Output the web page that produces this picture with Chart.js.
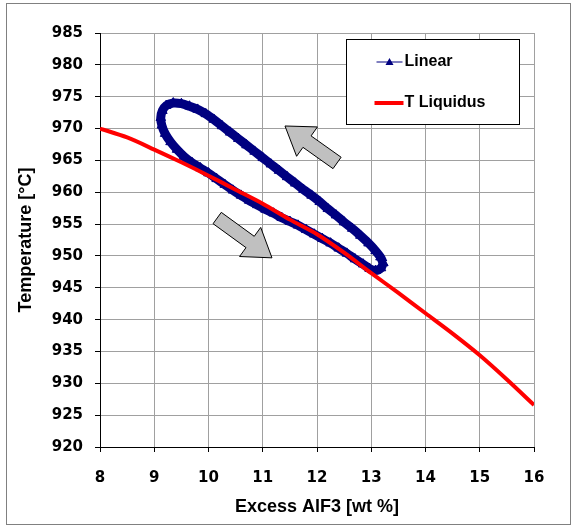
<!DOCTYPE html>
<html>
<head>
<meta charset="utf-8">
<script src="https://cdn.jsdelivr.net/npm/chart.js@4"></script>
<style>
  body { margin: 0; background: #fff; }
  #wrap { width: 576px; height: 531px; }
</style>
</head>
<body>
<div id="wrap"><canvas id="my-chart" width="576" height="531"></canvas></div>
<script>
'use strict';

// Data

let xTicks = [8, 9, 10, 11, 12, 13, 14, 15, 16];
let yTicks = [920, 925, 930, 935, 940, 945, 950, 955, 960, 965, 970, 975, 980, 985];

// T Liquidus curve
let liqX = [8, 8.5, 9, 9.5, 10, 10.5, 11, 11.5, 12, 12.5, 13, 13.5, 14, 14.5, 15, 15.5, 16];
let liqT = [970, 968.6, 966.7, 964.7, 962.6, 960.4, 958.2, 955.7, 953.4, 950.5, 947.3, 944.2, 941.0, 937.8, 934.4, 930.6, 926.6];

// Linear loop (upper branch going up-left, then lower branch going down-right)
let loopX = [13.22, 13.17, 13.08, 12.95, 12.8, 12.65, 12.5, 12.35, 12.2, 12.05, 11.9, 11.75, 11.6, 11.45, 11.3,
  11.15, 11.0, 10.85, 10.7, 10.55, 10.4, 10.25, 10.1, 9.95, 9.8, 9.65, 9.5, 9.35, 9.22, 9.15, 9.12, 9.14,
  9.2, 9.3, 9.42, 9.55, 9.7, 9.85, 10.0, 10.15, 10.3, 10.45, 10.6, 10.75, 10.9, 11.05, 11.2, 11.35, 11.5,
  11.65, 11.8, 11.95, 12.1, 12.25, 12.4, 12.55, 12.7, 12.85, 12.97, 13.08, 13.18, 13.22];
let loopT = [948.9, 949.8, 950.8, 952.0, 953.2, 954.3, 955.3, 956.4, 957.4, 958.5, 959.5, 960.4, 961.4, 962.4, 963.4,
  964.4, 965.4, 966.4, 967.4, 968.4, 969.4, 970.4, 971.4, 972.3, 973.0, 973.5, 973.9, 974.0, 973.6, 972.8, 971.7, 970.5,
  969.2, 967.9, 966.7, 965.6, 964.6, 963.8, 963.0, 962.1, 961.2, 960.3, 959.5, 958.7, 958.0, 957.3, 956.7, 956.0, 955.4,
  954.8, 954.1, 953.4, 952.7, 952.0, 951.2, 950.4, 949.5, 948.7, 948.0, 947.7, 948.1, 948.9];

// Arrows: [tailX, tailT, tipX, tipT]
let arrowUp = [12.37, 964.6, 11.41, 970.4];
let arrowDown = [10.16, 955.95, 11.17, 949.7];

let seriesNames = ['Linear', 'T Liquidus'];
let seriesColors = ['#000080', '#ff0000'];

// Helper Functions
function toPoints(xs, ys) {
  let pts = [];
  for (let i = 0; i < xs.length; i++) {
    pts.push({ x: xs[i], y: ys[i] });
  }
  return pts;
}

function drawArrow(ctx, chart, arr) {
  let xs = chart.scales.x;
  let ys = chart.scales.y;
  let x0 = xs.getPixelForValue(arr[0]);
  let y0 = ys.getPixelForValue(arr[1]);
  let x1 = xs.getPixelForValue(arr[2]);
  let y1 = ys.getPixelForValue(arr[3]);
  let len = Math.hypot(x1 - x0, y1 - y0);
  let ux = (x1 - x0) / len;
  let uy = (y1 - y0) / len;
  let nx = -uy;
  let ny = ux;
  let headLen = 27;
  let headW = 18;
  let shaftW = 7;
  let bx = x1 - ux * headLen;
  let by = y1 - uy * headLen;
  ctx.save();
  ctx.beginPath();
  ctx.moveTo(x0 + nx * shaftW, y0 + ny * shaftW);
  ctx.lineTo(bx + nx * shaftW, by + ny * shaftW);
  ctx.lineTo(bx + nx * headW, by + ny * headW);
  ctx.lineTo(x1, y1);
  ctx.lineTo(bx - nx * headW, by - ny * headW);
  ctx.lineTo(bx - nx * shaftW, by - ny * shaftW);
  ctx.lineTo(x0 - nx * shaftW, y0 - ny * shaftW);
  ctx.closePath();
  ctx.fillStyle = '#c0c0c0';
  ctx.fill();
  ctx.lineWidth = 1;
  ctx.strokeStyle = '#000';
  ctx.stroke();
  ctx.restore();
}

// Plugins
let framePlugin = {
  id: 'frame',
  beforeDraw(chart) {
    let ctx = chart.ctx;
    ctx.save();
    ctx.fillStyle = '#fff';
    ctx.fillRect(0, 0, chart.width, chart.height);
    ctx.strokeStyle = '#808080';
    ctx.lineWidth = 1;
    ctx.strokeRect(6.5, 3.5, 564, 521);
    ctx.restore();
  },
  afterDatasetsDraw(chart) {
    let ctx = chart.ctx;
    drawArrow(ctx, chart, arrowUp);
    drawArrow(ctx, chart, arrowDown);
  },
  afterDraw(chart) {
    let ctx = chart.ctx;
    let area = chart.chartArea;
    let lx = area.right - 187.5;
    let ly = area.top + 6.5;
    ctx.save();
    ctx.fillStyle = '#fff';
    ctx.fillRect(lx, ly, 173, 85);
    ctx.strokeStyle = '#000';
    ctx.lineWidth = 1;
    ctx.strokeRect(lx, ly, 173, 85);

    // Linear entry
    let y1 = ly + 22.5;
    ctx.strokeStyle = seriesColors[0];
    ctx.lineWidth = 1;
    ctx.beginPath();
    ctx.moveTo(lx + 30, y1);
    ctx.lineTo(lx + 56, y1);
    ctx.stroke();
    ctx.fillStyle = seriesColors[0];
    ctx.beginPath();
    ctx.moveTo(lx + 43, y1 - 4);
    ctx.lineTo(lx + 47, y1 + 3);
    ctx.lineTo(lx + 39, y1 + 3);
    ctx.closePath();
    ctx.fill();

    // T Liquidus entry
    let y2 = ly + 63.5;
    ctx.strokeStyle = seriesColors[1];
    ctx.lineWidth = 4;
    ctx.beginPath();
    ctx.moveTo(lx + 28, y2);
    ctx.lineTo(lx + 57, y2);
    ctx.stroke();

    ctx.fillStyle = '#000';
    ctx.font = 'bold 16px "Liberation Sans", Arial, sans-serif';
    ctx.textBaseline = 'middle';
    ctx.textAlign = 'left';
    ctx.fillText(seriesNames[0], lx + 58, y1);
    ctx.fillText(seriesNames[1], lx + 58, y2);
    ctx.restore();
  }
};

let canvasElem = document.getElementById('my-chart');

let tickFont = { family: '"DejaVu Sans", sans-serif', size: 15, weight: 'bold' };
let titleFont = { family: '"Liberation Sans", Arial, sans-serif', size: 18, weight: 'bold' };

let myObj = {
  type: 'line',
  data: {
    datasets: [{
      label: seriesNames[0],
      data: toPoints(loopX, loopT),
      borderColor: seriesColors[0],
      backgroundColor: seriesColors[0],
      borderWidth: 9,
      pointStyle: 'triangle',
      pointRadius: 5.5,
      pointBorderWidth: 1,
      tension: 0.3,
      order: 2
    },
    {
      label: seriesNames[1],
      data: toPoints(liqX, liqT),
      borderColor: seriesColors[1],
      backgroundColor: seriesColors[1],
      borderWidth: 4,
      pointRadius: 0,
      tension: 0.3,
      order: 1
    }]
  },
  options: {
    responsive: false,
    animation: false,
    layout: { padding: { top: 33, right: 42, left: 8, bottom: 8 } },
    plugins: {
      legend: { display: false },
      tooltip: { enabled: false }
    },
    scales: {
      x: {
        type: 'linear',
        min: 8,
        max: 16,
        afterBuildTicks: (s) => { s.ticks = xTicks.map(v => ({ value: v })); },
        afterFit: (s) => { s.height = 76; },
        grid: { color: '#a0a0a0', tickColor: '#000', tickLength: 5, lineWidth: 1 },
        border: { color: '#000', width: 1 },
        ticks: { color: '#000', font: tickFont, padding: 17 },
        title: { display: true, text: 'Excess AlF3 [wt %]', color: '#000', font: titleFont, padding: { top: 4, bottom: 5 } }
      },
      y: {
        type: 'linear',
        min: 920,
        max: 985,
        afterBuildTicks: (s) => { s.ticks = yTicks.map(v => ({ value: v })); },
        afterFit: (s) => { s.width = 92; },
        grid: { color: '#a0a0a0', tickColor: '#000', tickLength: 5, lineWidth: 1 },
        border: { color: '#000', width: 1 },
        ticks: { color: '#000', font: tickFont, padding: 12 },
        title: { display: true, text: 'Temperature [°C]', color: '#000', font: titleFont, padding: { top: 7, bottom: 7 } }
      }
    }
  },
  plugins: [framePlugin]
};

new Chart(canvasElem, myObj);
</script>
</body>
</html>
